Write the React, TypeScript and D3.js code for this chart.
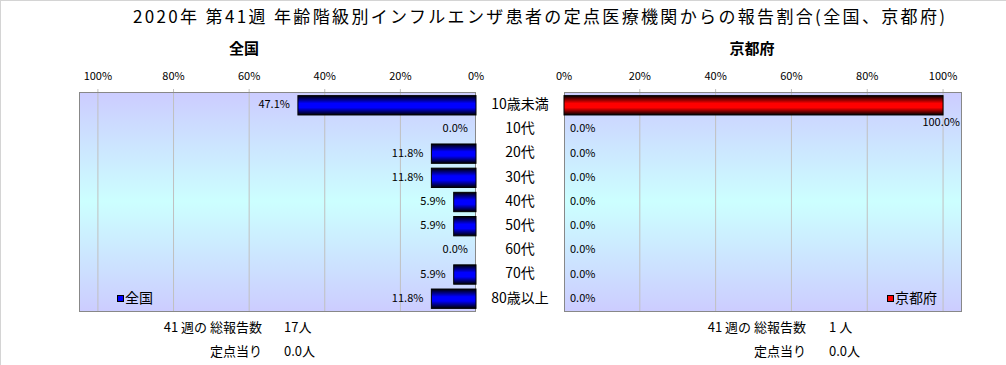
import React from "react";
import * as d3 from "d3";

const title = "2020年 第41週 年齢階級別インフルエンザ患者の定点医療機関からの報告割合(全国、京都府)";
const ageGroups = ["10歳未満", "10代", "20代", "30代", "40代", "50代", "60代", "70代", "80歳以上"];
const nationalShare = [47.1, 0, 11.8, 11.8, 5.9, 5.9, 0, 5.9, 11.8];
const kyotoShare = [100, 0, 0, 0, 0, 0, 0, 0, 0];
const tickValues = [0, 20, 40, 60, 80, 100];
const panelNames = ["全国", "京都府"];
const footerLabels = ["41 週の 総報告数", "定点当り"];
const nationalFooter = ["17人", "0.0人"];
const kyotoFooter = ["1 人", "0.0人"];

const W = 1006;
const H = 365;
const FONT = "'Noto Sans CJK JP', 'Noto Sans', sans-serif";

const plotTop = 92;
const plotBottom = 312;

export default function App() {
  const y = d3
    .scaleBand<string>()
    .domain(ageGroups)
    .range([plotTop, plotBottom])
    .paddingInner(0.2)
    .paddingOuter(0.15);

  // left panel grows leftwards, right panel rightwards
  const xLeft = d3.scaleLinear().domain([0, 105]).range([476, 79]);
  const xRight = d3.scaleLinear().domain([0, 105]).range([564, 962]);

  const fmt = (v: number) => `${v.toFixed(1)}%`;

  const panel = (
    key: string,
    x: d3.ScaleLinear<number, number>,
    values: number[],
    fill: string,
    side: "left" | "right"
  ) => {
    const [x0, x1] = x.range();
    const left = Math.min(x0, x1);
    const right = Math.max(x0, x1);
    return (
      <g key={key}>
        <rect x={left} y={plotTop} width={right - left} height={plotBottom - plotTop} fill="url(#bg)" />
        {tickValues.slice(1).map((t) => (
          <line key={t} x1={x(t)} x2={x(t)} y1={plotTop - 3} y2={plotBottom} stroke="#c0c0c0" />
        ))}
        {tickValues.map((t) => (
          <text key={"t" + t} x={x(t)} y={77} fontSize={11} textAnchor="middle" dominantBaseline="middle">
            {t}%
          </text>
        ))}
        <rect
          x={left + 0.5}
          y={plotTop + 0.5}
          width={right - left - 1}
          height={plotBottom - plotTop - 1}
          fill="none"
          stroke="#888"
        />
        {values.map((v, i) => {
          const cy = y(ageGroups[i])!;
          const bw = y.bandwidth();
          const xa = x(0);
          const xb = x(v);
          const bx = Math.min(xa, xb);
          const w = Math.abs(xb - xa);
          const mid = cy + bw / 2;
          let label;
          if (side === "left") {
            label = (
              <text x={xb - 8} y={mid} fontSize={11} textAnchor="end" dominantBaseline="middle">
                {fmt(v)}
              </text>
            );
          } else if (xb + 45 > right) {
            // no room past the bar end: tuck label under it
            label = (
              <text x={right - 2} y={mid + 18} fontSize={11} textAnchor="end" dominantBaseline="middle">
                {fmt(v)}
              </text>
            );
          } else {
            label = (
              <text x={xb + 6} y={mid} fontSize={11} textAnchor="start" dominantBaseline="middle">
                {fmt(v)}
              </text>
            );
          }
          return (
            <g key={i}>
              {v > 0 && (
                <rect x={bx} y={cy} width={w} height={bw} fill={fill} stroke="#000" strokeWidth={1} />
              )}
              {label}
            </g>
          );
        })}
      </g>
    );
  };

  return (
    <svg
      width={W}
      height={H}
      style={{ position: "absolute", left: 0, top: 0, fontFamily: FONT, background: "#fff" }}
    >
      <defs>
        <linearGradient id="bg" x1="0" y1="0" x2="0" y2="1">
          <stop offset="0" stopColor="#ccccff" />
          <stop offset="0.5" stopColor="#ccffff" />
          <stop offset="1" stopColor="#ccccff" />
        </linearGradient>
        <linearGradient id="blueBar" x1="0" y1="0" x2="0" y2="1">
          <stop offset="0" stopColor="#000000" />
          <stop offset="0.4" stopColor="#0000ff" />
          <stop offset="0.62" stopColor="#0000ff" />
          <stop offset="1" stopColor="#000000" />
        </linearGradient>
        <linearGradient id="redBar" x1="0" y1="0" x2="0" y2="1">
          <stop offset="0" stopColor="#000000" />
          <stop offset="0.4" stopColor="#ff0000" />
          <stop offset="0.62" stopColor="#ff0000" />
          <stop offset="1" stopColor="#000000" />
        </linearGradient>
      </defs>
      <rect x={0.5} y={0.5} width={W + 10} height={H + 10} fill="#fff" stroke="#d4d4d4" />

      <text x={539} y={18} fontSize={17} textAnchor="middle" dominantBaseline="middle" textLength={812} lengthAdjust="spacing">
        {title}
      </text>

      <text x={244} y={50} fontSize={15} fontWeight="bold" textAnchor="middle" dominantBaseline="middle">
        {panelNames[0]}
      </text>
      <text x={752} y={50} fontSize={15} fontWeight="bold" textAnchor="middle" dominantBaseline="middle">
        {panelNames[1]}
      </text>

      {panel("nat", xLeft, nationalShare, "url(#blueBar)", "left")}
      {panel("kyo", xRight, kyotoShare, "url(#redBar)", "right")}

      {ageGroups.map((g) => (
        <text key={g} x={520} y={y(g)! + y.bandwidth() / 2} fontSize={14} textAnchor="middle" dominantBaseline="middle">
          {g}
        </text>
      ))}

      {/* legends */}
      <rect x={117.5} y={295.5} width={6} height={6} fill="#0000ff" stroke="#000" />
      <text x={125} y={299} fontSize={14} dominantBaseline="middle">
        {panelNames[0]}
      </text>
      <rect x={887.5} y={295.5} width={6} height={6} fill="#ff0000" stroke="#000" />
      <text x={895} y={299} fontSize={14} dominantBaseline="middle">
        {panelNames[1]}
      </text>

      {/* footers */}
      {footerLabels.map((lab, i) => (
        <g key={lab} fontSize={13}>
          <text x={262} y={328 + i * 24} textAnchor="end" dominantBaseline="middle">
            {lab}
          </text>
          <text x={284} y={328 + i * 24} dominantBaseline="middle">
            {nationalFooter[i]}
          </text>
          <text x={806} y={328 + i * 24} textAnchor="end" dominantBaseline="middle">
            {lab}
          </text>
          <text x={829} y={328 + i * 24} dominantBaseline="middle">
            {kyotoFooter[i]}
          </text>
        </g>
      ))}
    </svg>
  );
}
